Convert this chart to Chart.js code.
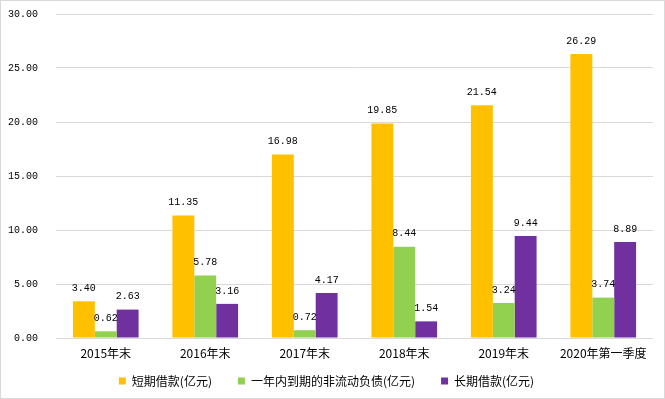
<!DOCTYPE html>
<html><head><meta charset="utf-8">
<script src="https://cdn.jsdelivr.net/npm/chart.js@4"></script>
<style>html,body{margin:0;padding:0;background:#fff}#wrap{width:665px;height:399px}</style>
</head><body><div id="wrap"><canvas id="c" width="665" height="399"></canvas></div>
<script>
const categories = ['2015年末','2016年末','2017年末','2018年末','2019年末','2020年第一季度'];
const seriesNames = ['短期借款(亿元)','一年内到期的非流动负债(亿元)','长期借款(亿元)'];
const shortLoans = [3.40, 11.35, 16.98, 19.85, 21.54, 26.29];
const currentNonCurrent = [0.62, 5.78, 0.72, 8.44, 3.24, 3.74];
const longLoans = [2.63, 3.16, 4.17, 1.54, 9.44, 8.89];
const yTicks = [0, 5, 10, 15, 20, 25, 30];

const colors = ['#FFC000', '#92D050', '#7030A0'];
const numFont = '10px "Liberation Mono", monospace';
const cjkFont = '"Noto Sans CJK SC", "DejaVu Sans", sans-serif';

const labelPlugin = {
  id: 'valueLabels',
  afterLayout(chart) {
    // pull legend up closer to axis labels (as in the reference)
    const lg = chart.legend;
    if (lg) { lg.top -= 13; lg.bottom = lg.top + 50; lg.height = 50; }
  },
  afterDatasetsDraw(chart) {
    const ctx = chart.ctx;
    ctx.save();
    ctx.font = numFont;
    ctx.fillStyle = '#000';
    ctx.textAlign = 'center';
    ctx.textBaseline = 'middle';
    chart.data.datasets.forEach((ds, i) => {
      chart.getDatasetMeta(i).data.forEach((bar, j) => {
        ctx.fillText(ds.data[j].toFixed(2), bar.x, bar.y - 13);
      });
    });
    ctx.restore();
  }
};
const borderPlugin = {
  id: 'outerBorder',
  afterDraw(chart) {
    const ctx = chart.ctx;
    ctx.save();
    ctx.strokeStyle = '#d9d9d9';
    ctx.lineWidth = 1;
    ctx.strokeRect(0.5, 0.5, chart.width - 1, chart.height - 1);
    ctx.restore();
  }
};

new Chart(document.getElementById('c'), {
  type: 'bar',
  data: {
    labels: categories,
    datasets: [
      { label: seriesNames[0], data: shortLoans, backgroundColor: colors[0] },
      { label: seriesNames[1], data: currentNonCurrent, backgroundColor: colors[1] },
      { label: seriesNames[2], data: longLoans, backgroundColor: colors[2] }
    ]
  },
  options: {
    responsive: false,
    animation: false,
    layout: { padding: { top: 14, right: 12, left: 0, bottom: 0 } },
    datasets: { bar: { categoryPercentage: 0.66, barPercentage: 1.0 } },
    scales: {
      x: {
        afterFit(s) { s.height = 24; s.paddingTop = 0; s.paddingBottom = 0; },
        grid: { display: false, drawTicks: false },
        border: { display: false },
        ticks: { color: '#000', padding: 8, maxRotation: 0, autoSkip: false, font: { family: cjkFont, size: 12 } }
      },
      y: {
        min: 0, max: 30,
        afterFit(s) { s.width = 56; s.paddingTop = 0; s.paddingBottom = 0; },
        afterBuildTicks(s) { s.ticks = yTicks.map(v => ({ value: v })); },
        grid: { color: '#d9d9d9', drawTicks: false },
        border: { display: false },
        ticks: {
          color: '#000', padding: 18,
          font: { family: '"Liberation Mono", monospace', size: 10 },
          callback: v => Number(v).toFixed(2)
        }
      }
    },
    plugins: {
      legend: {
        position: 'bottom',
        maxHeight: 37,
        labels: { boxWidth: 7, boxHeight: 7, padding: 26, color: '#000', font: { family: cjkFont, size: 12 } }
      },
      tooltip: { enabled: false }
    }
  },
  plugins: [labelPlugin, borderPlugin]
});
</script></body></html>
